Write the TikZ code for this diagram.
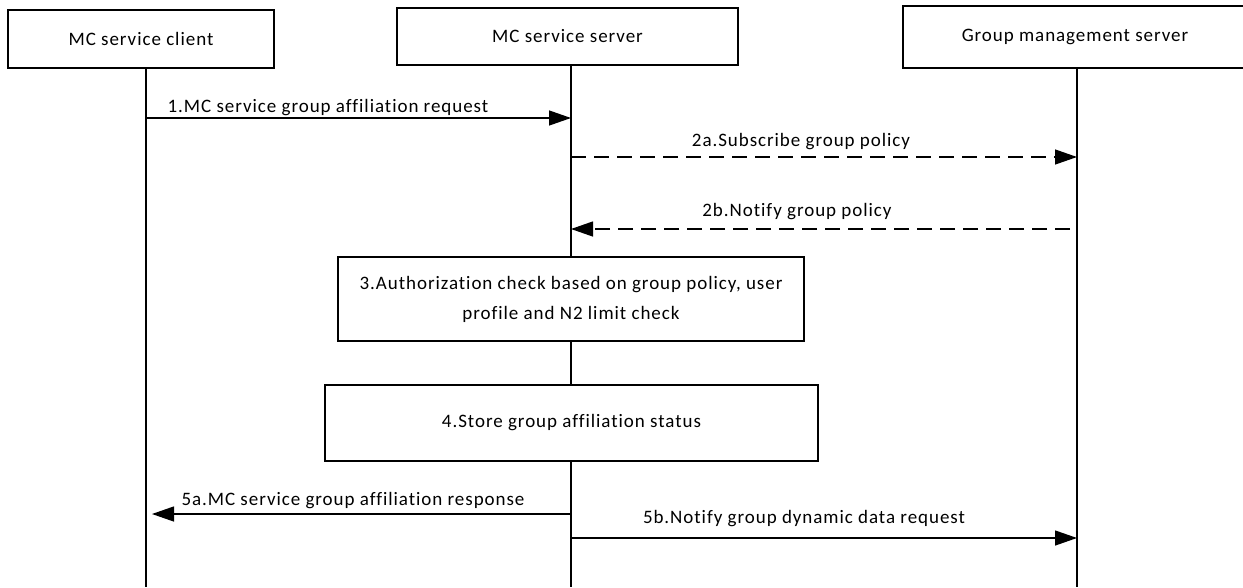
\documentclass[tikz,border=0pt]{standalone}
\usepackage{fontspec}
\setmainfont{Carlito}[LetterSpace=5, Ligatures=NoCommon]
\usetikzlibrary{arrows.meta}
\begin{document}
\begin{tikzpicture}[x=1pt,y=-1pt,
  box/.style={draw, line width=1.3pt, inner sep=0pt, align=center, font=\fontsize{19}{30}\selectfont},
  life/.style={line width=1.3pt},
  msg/.style={line width=1.3pt, -{Triangle[length=22pt,width=15pt]}},
  dmsg/.style={msg, dash pattern=on 15pt off 8pt},
  lbl/.style={font=\fontsize{19}{23}\selectfont, anchor=base, inner sep=0pt}]
\useasboundingbox (0,0) rectangle (1243,587);
\clip (0,0) rectangle (1243,587);
% participants
\node[box, minimum width=266pt, minimum height=58pt] (mcc) at (141,39) {MC service client};
\node[box, minimum width=341pt, minimum height=57pt] (mcs) at (567.5,36.5) {MC service server};
\node[box, minimum width=344pt, minimum height=62pt] (gms) at (1075,37) {Group management server};
% lifeline ends
\coordinate (cB) at (146,587);
\coordinate (sB) at (571,587);
\coordinate (gB) at (1077,587);
% process boxes
\node[box, minimum width=466pt, minimum height=84pt] (auth) at (571,299) {3.Authorization check based on group policy, user\\profile and N2 limit check};
\node[box, minimum width=493pt, minimum height=76pt] (store) at (571.5,423) {4.Store group affiliation status};
% lifelines
\draw[life] (mcc.south -| cB) -- (cB);
\draw[life] (mcs.south -| sB) -- (auth.north -| sB);
\draw[life] (store.south -| sB) -- (sB);
\draw[life] (gms.south -| gB) -- (gB);
\draw[line width=2.8pt] (auth.south -| sB) -- (store.north -| sB);
% message points
\coordinate (c1) at (146,118); \coordinate (s1) at (571,118);
\coordinate (s2a) at (571,157); \coordinate (g2a) at (1077,157);
\coordinate (g2b) at (1070,229); \coordinate (s2b) at (571,229);
\coordinate (s5a) at (571,514); \coordinate (c5a) at (152,514);
\coordinate (s5b) at (571,538); \coordinate (g5b) at (1077,538);
% messages
\draw[msg] (c1) -- (s1);
\node[lbl] (l1) at (328,112) {1.MC service group affiliation request};
\draw[dmsg] (s2a) -- (g2a);
\node[lbl] (l2a) at (801,146) {2a.Subscribe group policy};
\draw[dmsg] (g2b) -- (s2b);
\node[lbl] (l2b) at (797,216) {2b.Notify group policy};
\draw[msg] (s5a) -- (c5a);
\node[lbl] (l5a) at (353,505) {5a.MC service group affiliation response};
\draw[msg] (s5b) -- (g5b);
\node[lbl] (l5b) at (804,523) {5b.Notify group dynamic data request};
\end{tikzpicture}
\end{document}
